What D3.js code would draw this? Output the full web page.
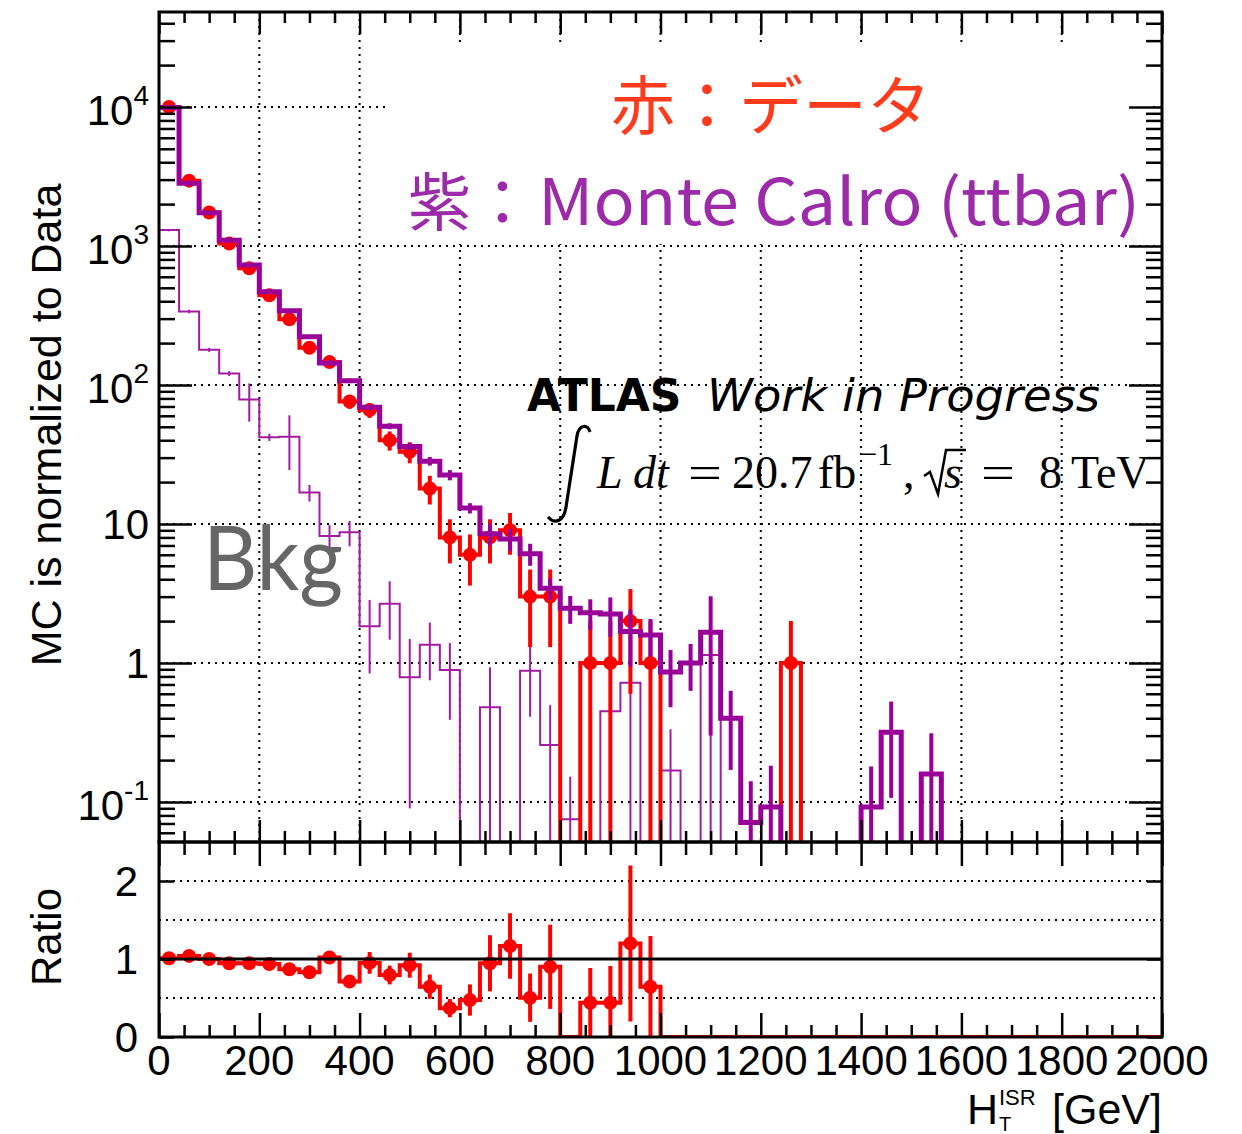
<!DOCTYPE html>
<html>
<head>
<meta charset="utf-8">
<script src="https://cdn.jsdelivr.net/npm/d3@7"></script>
<style>
  body { margin: 0; background: #fff; }
  svg { display: block; }
</style>
</head>
<body>
<svg id="chart" width="1242" height="1134"></svg>
<script>
// ---- H_T^ISR distribution, 40 GeV bins from 0 to 2000 GeV ----
const binWidth = 40;
const nBins = 50;

const xTickValues = [0, 200, 400, 600, 800, 1000, 1200, 1400, 1600, 1800, 2000];
const xTickLabels = ['0', '200', '400', '600', '800', '1000', '1200', '1400', '1600', '1800', '2000'];
const yTickValues = [0.1, 1, 10, 100, 1000, 10000];
const yTickBase = ['10', '1', '10', '10', '10', '10'];
const yTickExp = ['-1', '', '', '2', '3', '4'];
const ratioTickValues = [0, 1, 2];
const ratioTickLabels = ['0', '1', '2'];
const ratioGridValues = [0.5, 1.5, 2];

// observed events per bin
const dataCounts = [10000, 2950, 1740, 1040, 690, 442, 297, 185, 146, 76,
  66, 40, 33, 18, 8, 6, 8, 9, 3, 3,
  0, 1, 1, 2, 1, 0, 0, 0, 0, 0,
  0, 1, 0, 0, 0, 0, 0, 0, 0, 0,
  0, 0, 0, 0, 0, 0, 0, 0, 0, 0];
const dataErr = [100, 54.3, 41.7, 32.2, 26.3, 21, 17.2, 13.6, 12.1, 8.7,
  8.1, 6.3, 5.7, 4.2, 2.8, 2.4, 2.8, 3, 1.7, 1.7,
  0, 1, 1, 1.4, 1, 0, 0, 0, 0, 0,
  0, 1, 0, 0, 0, 0, 0, 0, 0, 0,
  0, 0, 0, 0, 0, 0, 0, 0, 0, 0];

// ttbar Monte Carlo, normalised to data
const mcValues = [9900, 2830, 1735, 1100, 728, 468, 342, 222, 144, 107,
  69, 50.5, 36, 28.3, 22.5, 13, 8.5, 7.8, 6.1, 3.45,
  2.47, 2.3, 2.25, 1.68, 1.59, 0.86, 1.0, 1.66, 0.40, 0.071,
  0.092, 0, 0, 0, 0, 0.092, 0.317, 0, 0.159, 0,
  0, 0, 0, 0, 0, 0, 0, 0, 0, 0];
const mcErr = [60, 35, 25, 18, 14, 11, 9, 7, 5, 4,
  3, 2.5, 2.2, 2, 1.9, 1.1, 1.5, 1.4, 1.1, 0.6,
  0.56, 0.57, 0.71, 0.74, 0.48, 0.38, 0.37, 1.36, 0.23, 0.07,
  0.09, 0, 0, 0, 0, 0.088, 0.21, 0, 0.153, 0,
  0, 0, 0, 0, 0, 0, 0, 0, 0, 0];

// background component of the Monte Carlo
const bkgValues = [1300, 338, 179, 121, 78.5, 42, 42.4, 16.8, 8.2, 8.7,
  1.84, 2.67, 0.79, 1.35, 0.89, 0, 0.48, 0, 0.88, 0.257,
  0.075, 0, 0.45, 0.72, 0, 0.168, 0, 1.14, 0, 0,
  0, 0, 0, 0, 0, 0, 0, 0, 0, 0,
  0, 0, 0, 0, 0, 0, 0, 0, 0, 0];
const bkgErr = [25, 10, 6, 5, 24, 2.5, 18, 2.3, 1.6, 1.8,
  1.0, 1.2, 0.7, 0.6, 0.5, 0, 0.45, 0, 0.47, 0.24,
  0.077, 0, 0.35, 0.75, 0, 0.165, 0, 1.36, 0, 0,
  0, 0, 0, 0, 0, 0, 0, 0, 0, 0,
  0, 0, 0, 0, 0, 0, 0, 0, 0, 0];

// data / MC
const ratioValues = [1.01, 1.04, 1.0, 0.945, 0.945, 0.936, 0.868, 0.83, 1.02, 0.71,
  0.95, 0.795, 0.92, 0.645, 0.37, 0.474, 0.945, 1.167, 0.504, 0.90,
  0, 0.44, 0.44, 1.2, 0.645, 0, 0, 0, 0, 0,
  0, 0, 0, 0, 0, 0, 0, 0, 0, 0,
  0, 0, 0, 0, 0, 0, 0, 0, 0, 0];
const ratioErr = [0.015, 0.02, 0.025, 0.03, 0.04, 0.045, 0.05, 0.06, 0.075, 0.07,
  0.14, 0.12, 0.16, 0.156, 0.117, 0.2, 0.36, 0.42, 0.31, 0.54,
  0, 0.445, 0.47, 1.0, 0.65, 0, 0, 0, 0, 0,
  0, 0, 0, 0, 0, 0, 0, 0, 0, 0,
  0, 0, 0, 0, 0, 0, 0, 0, 0, 0];

// ---- layout ----
const svg = d3.select('#chart');
const L = 159, R = 1162, T = 12, MID = 842, B = 1037;
const RED = '#ff0000', MCCOL = '#990099', BKGCOL = '#a11ca1';

const x = d3.scaleLinear().domain([0, 2000]).range([L, R]);
const yTop = d3.scaleLog().domain([0.0515, 48200]).range([MID, T]);
const yRat = d3.scaleLinear().domain([0, 2.5]).range([B, MID]);
const ylog = v => v > 0 ? yTop(v) : MID + 80;

const defs = svg.append('defs');
defs.append('clipPath').attr('id', 'clipTop').append('rect')
  .attr('x', L).attr('y', T).attr('width', R - L).attr('height', MID - T);
defs.append('clipPath').attr('id', 'clipRat').append('rect')
  .attr('x', L).attr('y', MID).attr('width', R - L).attr('height', B - MID + 1);

const centers = d3.range(nBins).map(i => (i + 0.5) * binWidth);

function stepPath(vals, yf) {
  let p = '';
  vals.forEach((v, i) => {
    const x0 = x(i * binWidth), x1 = x((i + 1) * binWidth), yy = yf(v);
    p += (i === 0 ? `M${x0},${yy}` : `V${yy}`) + `H${x1}`;
  });
  return p;
}

// ---- grids ----
const grid = svg.append('g').attr('stroke', '#000').attr('stroke-width', 2)
  .attr('stroke-dasharray', '2,5');
grid.selectAll('.gx').data(xTickValues.slice(1, -1)).join('line')
  .attr('x1', d => x(d)).attr('x2', d => x(d)).attr('y1', T).attr('y2', MID);
grid.selectAll('.gy').data(yTickValues).join('line')
  .attr('x1', L).attr('x2', R).attr('y1', d => yTop(d)).attr('y2', d => yTop(d));
grid.selectAll('.gr').data(ratioGridValues).join('line')
  .attr('x1', L).attr('x2', R).attr('y1', d => yRat(d)).attr('y2', d => yRat(d));

// label panel behind the colour key
svg.append('rect').attr('x', 386).attr('y', 46).attr('width', 762).attr('height', 198)
  .attr('fill', '#fff');

// ---- upper panel ----
const upper = svg.append('g').attr('clip-path', 'url(#clipTop)');

// background component (thin)
upper.append('path').attr('d', stepPath(bkgValues, ylog))
  .attr('fill', 'none').attr('stroke', BKGCOL).attr('stroke-width', 2);
const bIdx = d3.range(nBins).filter(i => bkgValues[i] > 0 && bkgErr[i] > 0);
upper.append('g').selectAll('line').data(bIdx).join('line')
  .attr('x1', i => x(centers[i])).attr('x2', i => x(centers[i]))
  .attr('y1', i => ylog(bkgValues[i] + bkgErr[i]))
  .attr('y2', i => ylog(bkgValues[i] - bkgErr[i]))
  .attr('stroke', BKGCOL).attr('stroke-width', 2);

// data
upper.append('path').attr('d', stepPath(dataCounts, ylog))
  .attr('fill', 'none').attr('stroke', RED).attr('stroke-width', 4);
const dIdx = d3.range(nBins).filter(i => dataCounts[i] > 0);
upper.append('g').selectAll('line').data(dIdx).join('line')
  .attr('x1', i => x(centers[i])).attr('x2', i => x(centers[i]))
  .attr('y1', i => ylog(dataCounts[i] + dataErr[i]))
  .attr('y2', i => ylog(dataCounts[i] - dataErr[i]))
  .attr('stroke', RED).attr('stroke-width', 4);
upper.append('g').selectAll('circle').data(dIdx).join('circle')
  .attr('cx', i => x(centers[i])).attr('cy', i => ylog(dataCounts[i]))
  .attr('r', 7).attr('fill', RED);

// ttbar MC (thick)
upper.append('path').attr('d', stepPath(mcValues, ylog))
  .attr('fill', 'none').attr('stroke', MCCOL).attr('stroke-width', 5);
const mIdx = d3.range(nBins).filter(i => mcValues[i] > 0);
upper.append('g').selectAll('line').data(mIdx).join('line')
  .attr('x1', i => x(centers[i])).attr('x2', i => x(centers[i]))
  .attr('y1', i => ylog(mcValues[i] + mcErr[i]))
  .attr('y2', i => ylog(mcValues[i] - mcErr[i]))
  .attr('stroke', MCCOL).attr('stroke-width', 4);

// ---- ratio panel ----
const rat = svg.append('g').attr('clip-path', 'url(#clipRat)');
rat.append('path').attr('d', stepPath(ratioValues, v => yRat(v)))
  .attr('fill', 'none').attr('stroke', RED).attr('stroke-width', 4);
const rIdx = d3.range(nBins).filter(i => ratioValues[i] > 0);
rat.append('g').selectAll('line').data(rIdx).join('line')
  .attr('x1', i => x(centers[i])).attr('x2', i => x(centers[i]))
  .attr('y1', i => yRat(ratioValues[i] + ratioErr[i]))
  .attr('y2', i => yRat(Math.max(0, ratioValues[i] - ratioErr[i])))
  .attr('stroke', RED).attr('stroke-width', 4);
rat.append('g').selectAll('circle').data(rIdx).join('circle')
  .attr('cx', i => x(centers[i])).attr('cy', i => yRat(ratioValues[i]))
  .attr('r', 7).attr('fill', RED);
svg.append('line').attr('x1', L).attr('x2', R).attr('y1', yRat(1)).attr('y2', yRat(1))
  .attr('stroke', '#000').attr('stroke-width', 3);

// ---- frames ----
svg.append('rect').attr('x', L).attr('y', T).attr('width', R - L).attr('height', MID - T)
  .attr('fill', 'none').attr('stroke', '#000').attr('stroke-width', 3);
svg.append('rect').attr('x', L).attr('y', MID).attr('width', R - L).attr('height', B - MID)
  .attr('fill', 'none').attr('stroke', '#000').attr('stroke-width', 3);

// ---- tick marks ----
function tickMarks(axis, tx, ty, values, size) {
  const g = svg.append('g').attr('transform', `translate(${tx},${ty})`)
    .call(axis.tickValues(values).tickSize(size).tickFormat(''));
  g.select('.domain').remove();
  g.selectAll('line').attr('stroke', '#000').attr('stroke-width', 2.5);
  g.selectAll('text').remove();
}
const xMinor = d3.range(0, 2001, 50).filter(v => v % 200 !== 0);
const yMinor = [];
[-2, -1, 0, 1, 2, 3, 4].forEach(e => d3.range(2, 10).forEach(m => {
  const v = m * Math.pow(10, e);
  if (v > 0.0515 && v < 48200) yMinor.push(v);
}));

// upper panel
tickMarks(d3.axisLeft(yTop), L, 0, yTickValues, -33);
tickMarks(d3.axisLeft(yTop), L, 0, yMinor, -16);
tickMarks(d3.axisRight(yTop), R, 0, yTickValues, -33);
tickMarks(d3.axisRight(yTop), R, 0, yMinor, -16);
tickMarks(d3.axisTop(x), 0, T, xTickValues, -22);
tickMarks(d3.axisTop(x), 0, T, xMinor, -11);
tickMarks(d3.axisBottom(x), 0, MID, xTickValues, -22);
tickMarks(d3.axisBottom(x), 0, MID, xMinor, -11);
// ratio panel
tickMarks(d3.axisTop(x), 0, MID, xTickValues, -24);
tickMarks(d3.axisTop(x), 0, MID, xMinor, -13);
tickMarks(d3.axisBottom(x), 0, B, xTickValues, -24);
tickMarks(d3.axisBottom(x), 0, B, xMinor, -12);
tickMarks(d3.axisLeft(yRat), L, 0, ratioTickValues, -15);
tickMarks(d3.axisRight(yRat), R, 0, ratioTickValues, -15);

// ---- tick labels ----
const FONT = 'Liberation Sans, Arial, Helvetica, sans-serif';
const xl = svg.append('g').attr('font-family', FONT).attr('font-size', 42)
  .attr('text-anchor', 'middle');
xl.selectAll('text').data(xTickValues).join('text')
  .attr('x', d => x(d)).attr('y', 1075)
  .text((d, i) => xTickLabels[i]);

const yl = svg.append('g').attr('font-family', FONT).attr('font-size', 42)
  .attr('text-anchor', 'end');
yl.selectAll('text').data(yTickValues).join('text')
  .attr('x', 149).attr('y', d => yTop(d) + 15)
  .each(function (d, i) {
    const t = d3.select(this);
    if (yTickExp[i]) {
      t.attr('y', yTop(d) + 18);
      t.append('tspan').text(yTickBase[i]);
      t.append('tspan').attr('font-size', 28).attr('dy', -20).text(yTickExp[i]);
    } else {
      t.text(yTickBase[i]);
    }
  });

svg.append('g').attr('font-family', FONT).attr('font-size', 42).attr('text-anchor', 'end')
  .selectAll('text').data(ratioTickValues).join('text')
  .attr('x', 138).attr('y', d => yRat(d) + 15)
  .text((d, i) => ratioTickLabels[i]);

// ---- axis titles ----
svg.append('text').attr('font-family', FONT).attr('font-size', 43)
  .attr('text-anchor', 'middle')
  .attr('transform', 'translate(61,425) rotate(-90)')
  .text('MC is normalized to Data');
svg.append('text').attr('font-family', FONT).attr('font-size', 42)
  .attr('text-anchor', 'middle')
  .attr('transform', 'translate(61,937) rotate(-90)')
  .text('Ratio');

const xt = svg.append('g').attr('font-family', FONT);
xt.append('text').attr('x', 967).attr('y', 1124).attr('font-size', 43).text('H');
xt.append('text').attr('x', 999).attr('y', 1105).attr('font-size', 22).text('ISR');
xt.append('text').attr('x', 999).attr('y', 1131).attr('font-size', 20).text('T');
xt.append('text').attr('x', 1162).attr('y', 1124).attr('font-size', 43)
  .attr('text-anchor', 'end').text('[GeV]');

// ---- annotations ----
const CJK = '"Noto Sans CJK JP", "Noto Sans CJK SC", sans-serif';
svg.append('text').attr('x', 611).attr('y', 129).attr('font-family', CJK)
  .attr('font-size', 64).attr('fill', '#ff3b1c').text('赤：データ');
svg.append('text').attr('x', 408).attr('y', 225).attr('font-family', CJK)
  .attr('font-size', 63).attr('fill', '#9c2ba9').text('紫：');
svg.append('text').attr('x', 538).attr('y', 225).attr('font-family', CJK)
  .attr('font-size', 64).attr('fill', '#9c2ba9')
  .attr('textLength', 602).attr('lengthAdjust', 'spacingAndGlyphs')
  .text('Monte Calro (ttbar)');

svg.append('text').attr('x', 203).attr('y', 590).attr('font-family', 'Lato, "Open Sans", sans-serif')
  .attr('font-size', 90).attr('fill', '#666666')
  .attr('textLength', 140).attr('lengthAdjust', 'spacingAndGlyphs').text('Bkg');

svg.append('text').attr('x', 527).attr('y', 411).attr('font-family', '"DejaVu Sans", sans-serif')
  .attr('font-size', 44).attr('font-weight', 'bold').text('ATLAS');
svg.append('text').attr('x', 707).attr('y', 411).attr('font-family', '"DejaVu Sans", sans-serif')
  .attr('font-size', 44).attr('font-style', 'italic')
  .attr('textLength', 393).attr('lengthAdjust', 'spacingAndGlyphs').text('Work in Progress');

// integrated luminosity and centre-of-mass energy
const SERIF = '"Liberation Serif", "DejaVu Serif", serif';
const lumi = svg.append('g').attr('font-family', SERIF).attr('font-size', 46).attr('fill', '#000');
svg.append('path')
  .attr('d', 'M590,432 C588,424 579,424 577,436 L566,507 C564,521 555,525 548,517')
  .attr('fill', 'none').attr('stroke', '#000').attr('stroke-width', 3.2);
lumi.append('text').attr('x', 597).attr('y', 488).attr('font-style', 'italic').text('L');
lumi.append('text').attr('x', 633).attr('y', 488).attr('font-style', 'italic').text('dt');
lumi.append('text').attr('x', 688).attr('y', 488)
  .attr('textLength', 34).attr('lengthAdjust', 'spacingAndGlyphs').text('=');
lumi.append('text').attr('x', 732).attr('y', 488).text('20.7');
lumi.append('text').attr('x', 818).attr('y', 488).text('fb');
lumi.append('text').attr('x', 859).attr('y', 465).attr('font-size', 32).text('\u22121');
lumi.append('text').attr('x', 903).attr('y', 488).text(',');
svg.append('path').attr('d', 'M924,476 L930,472 L938,494 L946,450 H966')
  .attr('fill', 'none').attr('stroke', '#000').attr('stroke-width', 2.5);
lumi.append('text').attr('x', 944).attr('y', 488).attr('font-style', 'italic').text('s');
lumi.append('text').attr('x', 981).attr('y', 488)
  .attr('textLength', 34).attr('lengthAdjust', 'spacingAndGlyphs').text('=');
lumi.append('text').attr('x', 1039).attr('y', 488).text('8');
lumi.append('text').attr('x', 1071).attr('y', 488).text('TeV');
</script>
</body>
</html>
